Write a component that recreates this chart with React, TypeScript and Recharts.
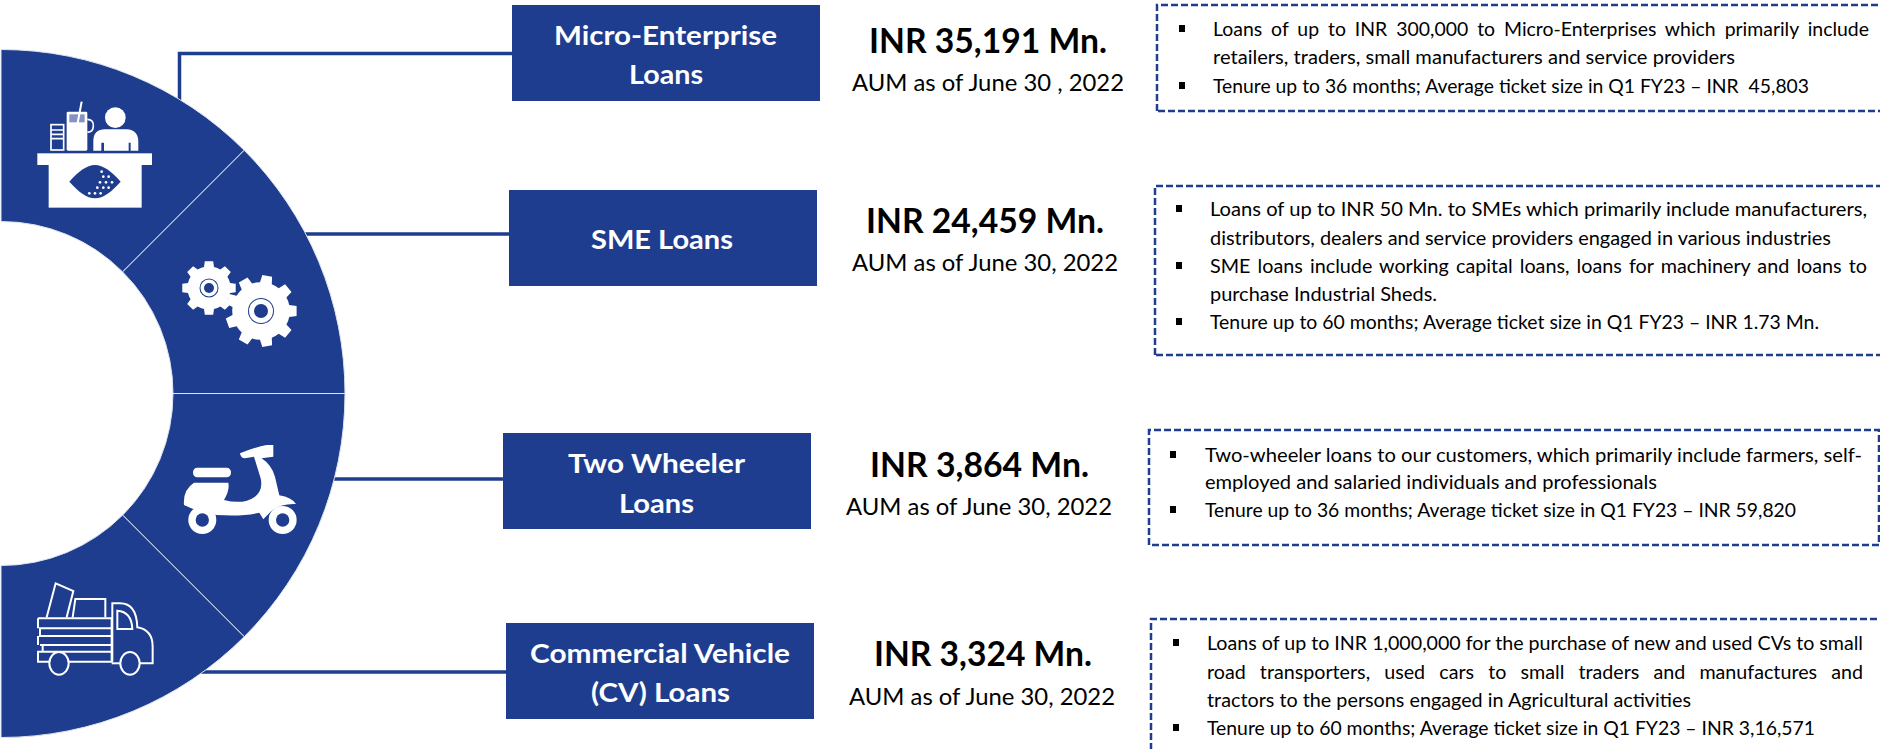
import { PieChart, Pie, Cell } from 'recharts';

const W = 1880;
const H = 749;
const BLUE = '#1e3d8f';
const FONT = 'Lato, "Noto Sans", sans-serif';

// the four products, the wedges are all the same size in the original
const products = ['Micro-Enterprise Loans', 'SME Loans', 'Two Wheeler Loans', 'Commercial Vehicle (CV) Loans'];
const wedgeShare = [1, 1, 1, 1];

const aumValues = ['INR 35,191 Mn.', 'INR 24,459 Mn.', 'INR 3,864 Mn.', 'INR 3,324 Mn.'];
const aumNotes = ['AUM as of June 30 , 2022', 'AUM as of June 30, 2022', 'AUM as of June 30, 2022', 'AUM as of June 30, 2022'];

const boxTitles = [
  ['Micro-Enterprise', 'Loans'],
  ['SME Loans'],
  ['Two Wheeler', 'Loans'],
  ['Commercial Vehicle', '(CV) Loans'],
];

const detailLines = [
  [
    'Loans of up to INR 300,000 to Micro-Enterprises which primarily include',
    'retailers, traders, small manufacturers and service providers',
    'Tenure up to 36 months; Average ticket size in Q1 FY23 – INR  45,803',
  ],
  [
    'Loans of up to INR 50 Mn. to SMEs which primarily include manufacturers,',
    'distributors, dealers and service providers engaged in various industries',
    'SME loans include working capital loans, loans for machinery and loans to',
    'purchase Industrial Sheds.',
    'Tenure up to 60 months; Average ticket size in Q1 FY23 – INR 1.73 Mn.',
  ],
  [
    'Two-wheeler loans to our customers, which primarily include farmers, self-',
    'employed and salaried individuals and professionals',
    'Tenure up to 36 months; Average ticket size in Q1 FY23 – INR 59,820',
  ],
  [
    'Loans of up to INR 1,000,000 for the purchase of new and used CVs to small',
    'road transporters, used cars to small traders and manufactures and',
    'tractors to the persons engaged in Agricultural activities',
    'Tenure up to 60 months; Average ticket size in Q1 FY23 – INR 3,16,571',
  ],
];

const pieData = products.map((name, i) => ({ name, value: wedgeShare[i] }));

// layout
const boxX = [512, 509, 503, 506];
const boxY = [5, 190, 433, 623];
const titleSpans = [
  [[554, 223, 45], [629, 74, 84]],
  [[591, 142, 249]],
  [[568, 177, 473], [619, 75, 513]],
  [[530, 260, 663], [591, 139, 702]],
];
const aumSpans = [[869, 238, 53], [866, 238, 233], [870, 219, 477], [874, 218, 666]];
const noteSpans = [[852, 272, 91], [852, 266, 271], [846, 266, 515], [849, 266, 705]];
const dashed = [
  { x: 1157, top: 5, bottom: 111, right: 1900 },
  { x: 1155, top: 186, bottom: 355, right: 1900 },
  { x: 1149, top: 430, bottom: 545, right: 1879 },
  { x: 1151, top: 619, bottom: 780, right: 1900 },
];
const detailX = [1213, 1210, 1205, 1207];
const bulletX = [1179, 1176, 1170, 1173];
const detailBase = [
  [36, 64, 93],
  [216, 245, 273, 301, 329],
  [462, 489, 517],
  [650, 679, 707, 735],
];
const detailEnd = [
  [1869, 1735, 1809],
  [1867, 1831, 1867, 1437, 1819],
  [1862, 1657, 1796],
  [1863, 1863, 1691, 1815],
];
// justified lines in the original have wider word gaps
const detailGap = [
  [4, 0, 0],
  [0, 0, 2, 0, 0],
  [0, 0, 0],
  [0, 9, 0, 0],
];
const bulleted = [
  [true, false, true],
  [true, false, true, false, true],
  [true, false, true],
  [true, false, false, true],
];
const connectors = [
  'M179.5 101 V53.5 H512',
  'M304 234 H509',
  'M334 479 H503',
  'M198 672 H506',
];

function gearPath(cx: number, cy: number, r: number, teeth: number) {
  let d = '';
  const inner = r * 0.8;
  const step = (Math.PI * 2) / teeth;
  for (let i = 0; i < teeth; i++) {
    const a = i * step;
    const pts: [number, number][] = [
      [inner, a - step * 0.5],
      [inner, a - step * 0.3],
      [r, a - step * 0.2],
      [r, a + step * 0.2],
      [inner, a + step * 0.3],
    ];
    pts.forEach(([rr, t], k) => {
      d += `${i === 0 && k === 0 ? 'M' : 'L'}${(cx + rr * Math.cos(t)).toFixed(1)} ${(cy + rr * Math.sin(t)).toFixed(1)} `;
    });
  }
  return d + 'Z';
}

// icons use the 3x crop coordinates of the reference, hence the scale
function DeskIcon() {
  return (
    <g transform="translate(0,30) scale(0.3333)">
      <rect x="112" y="370" width="344" height="35" fill="#fff" />
      <rect x="146" y="400" width="279" height="133" fill="#fff" />
      <path d="M208 455 C235 425 260 405 285 405 C310 405 335 425 362 455 C335 485 310 505 285 505 C260 505 235 485 208 455 Z" fill={BLUE} />
      <g fill="#fff">
        <circle cx="305" cy="425" r="4" />
        <circle cx="310" cy="440" r="4" /><circle cx="326" cy="440" r="4" />
        <circle cx="300" cy="457" r="4" /><circle cx="318" cy="457" r="4" /><circle cx="336" cy="457" r="4" />
        <circle cx="292" cy="473" r="4" /><circle cx="310" cy="473" r="4" /><circle cx="326" cy="473" r="4" />
        <circle cx="268" cy="490" r="4" /><circle cx="285" cy="490" r="4" /><circle cx="302" cy="490" r="4" />
      </g>
      <circle cx="346" cy="263" r="31" fill="#fff" />
      <path d="M280 362 V330 Q282 298 315 298 H380 Q415 300 415 335 V362 H392 V338 H386 V362 H312 V338 H304 V362 Z" fill="#fff" />
      <rect x="200" y="245" width="62" height="117" rx="4" fill="#fff" />
      <path d="M262 268 Q282 268 280 290 Q278 308 262 306" fill="none" stroke="#fff" strokeWidth="5" />
      <rect x="208" y="253" width="46" height="24" fill={BLUE} opacity="0.55" />
      <path d="M245 215 L232 285" stroke="#fff" strokeWidth="6" />
      <rect x="153" y="284" width="38" height="76" fill="none" stroke="#fff" strokeWidth="5" />
      <path d="M153 300 H191 M153 313 H191 M153 326 H191" stroke="#fff" strokeWidth="5" />
    </g>
  );
}

function GearsIcon() {
  return (
    <g>
      <path d={gearPath(209, 288, 27, 8)} fill="#fff" />
      <path d={gearPath(261, 311, 36, 9)} fill="#fff" />
      <circle cx="209" cy="288" r="9.5" fill={BLUE} />
      <circle cx="209" cy="288" r="8.5" fill="#fff" />
      <circle cx="209" cy="288" r="5" fill={BLUE} />
      <circle cx="261" cy="311" r="13" fill={BLUE} />
      <circle cx="261" cy="311" r="12" fill="#fff" />
      <circle cx="261" cy="311" r="7" fill={BLUE} />
    </g>
  );
}

function ScooterIcon() {
  return (
    <g transform="translate(0,390) scale(0.3333)">
      <rect x="579" y="233" width="114" height="29" rx="13" fill="#fff" />
      <path
        d="M720 190 Q770 170 800 165 L820 165 L820 200 L785 205 Q815 225 825 260 L838 316 Q875 322 888 342 Q840 340 812 365 L790 388 L778 368 Q730 380 650 375 Q600 368 552 345 Q548 300 582 278 H685 Q690 300 672 330 Q730 345 765 320 Q790 300 782 265 L762 200 L735 205 Q722 205 720 190 Z"
        fill="#fff"
      />
      <circle cx="607" cy="390" r="42" fill="#fff" />
      <circle cx="607" cy="390" r="20" fill={BLUE} />
      <circle cx="848" cy="390" r="42" fill="#fff" />
      <circle cx="848" cy="390" r="20" fill={BLUE} />
    </g>
  );
}

function TruckIcon() {
  return (
    <g transform="translate(0,390) scale(0.3333)" fill="none" stroke="#fff" strokeWidth="6">
      <path d="M114 685 H335 V815 H114 V785 H335 M120 715 H335 V738 H120 Z M120 765 H335 M114 685 V715 M114 738 V765 M128 765 V785" />
      <path d="M140 682 L167 580 L220 603 L200 682" />
      <path d="M218 682 L226 627 H316 V682" />
      <path d="M337 815 V640 H360 Q410 640 412 712 Q458 720 458 770 V820 H420" />
      <path d="M352 662 Q395 665 397 717 H352 Z" />
      <path d="M335 820 H360" />
      <ellipse cx="177" cy="820" rx="29" ry="34" fill={BLUE} />
      <ellipse cx="390" cy="820" rx="29" ry="34" fill={BLUE} />
    </g>
  );
}

function Line({ s, x, y, w, size, fill, bold, gap }: { s: string; x: number; y: number; w: number; size: number; fill: string; bold?: boolean; gap?: number }) {
  return (
    <text x={x} y={y} fontFamily={FONT} fontSize={size} fontWeight={bold ? 700 : 400} fill={fill} textLength={w} lengthAdjust="spacingAndGlyphs" xmlSpace="preserve" wordSpacing={gap || 0}>
      {s}
    </text>
  );
}

export default function App() {
  return (
    <div style={{ position: 'absolute', left: 0, top: 0, width: W, height: H, overflow: 'hidden', background: '#fff' }}>
      <PieChart width={W} height={H} margin={{ top: 0, right: 0, bottom: 0, left: 0 }}>
        {connectors.map((d) => (
          <path key={d} d={d} fill="none" stroke={BLUE} strokeWidth={3.5} />
        ))}
        <Pie
          data={pieData}
          dataKey="value"
          nameKey="name"
          cx={1}
          cy={393.5}
          innerRadius={172}
          outerRadius={344}
          startAngle={90}
          endAngle={-90}
          paddingAngle={0}
          stroke="#dfe4f0"
          strokeWidth={1}
          isAnimationActive={false}
        >
          {pieData.map((d) => (
            <Cell key={d.name} fill={BLUE} />
          ))}
        </Pie>
        {boxTitles.map((lines, i) => (
          <g key={products[i]}>
            <rect x={boxX[i]} y={boxY[i]} width={308} height={96} fill={BLUE} />
            {lines.map((s, k) => (
              <Line key={s} s={s} x={titleSpans[i][k][0]} y={titleSpans[i][k][2]} w={titleSpans[i][k][1]} size={27} fill="#fff" bold />
            ))}
          </g>
        ))}
        {aumValues.map((s, i) => (
          <Line key={s} s={s} x={aumSpans[i][0]} y={aumSpans[i][2]} w={aumSpans[i][1]} size={34} fill="#000" bold />
        ))}
        {aumNotes.map((s, i) => (
          <Line key={i} s={s} x={noteSpans[i][0]} y={noteSpans[i][2]} w={noteSpans[i][1]} size={23} fill="#000" />
        ))}
        {dashed.map((b, i) => (
          <path
            key={i}
            d={`M${b.x} ${b.bottom} V${b.top} H${b.right} V${b.bottom} H${b.x}`}
            fill="none"
            stroke={BLUE}
            strokeWidth={2.5}
            strokeDasharray="7 3"
          />
        ))}
        {detailLines.map((lines, i) =>
          lines.map((s, k) => (
            <g key={s}>
              {bulleted[i][k] && <rect x={bulletX[i]} y={detailBase[i][k] - 11} width={6} height={7} fill="#000" />}
              <Line s={s} x={detailX[i]} y={detailBase[i][k]} w={detailEnd[i][k] - detailX[i]} size={19.5} fill="#000" gap={detailGap[i][k]} />
            </g>
          ))
        )}
      </PieChart>
      {/* the Pie paints above chart children, so the icons sit in their own layer */}
      <svg width={W} height={H} style={{ position: 'absolute', left: 0, top: 0, pointerEvents: 'none' }}>
        <DeskIcon />
        <GearsIcon />
        <ScooterIcon />
        <TruckIcon />
      </svg>
    </div>
  );
}
